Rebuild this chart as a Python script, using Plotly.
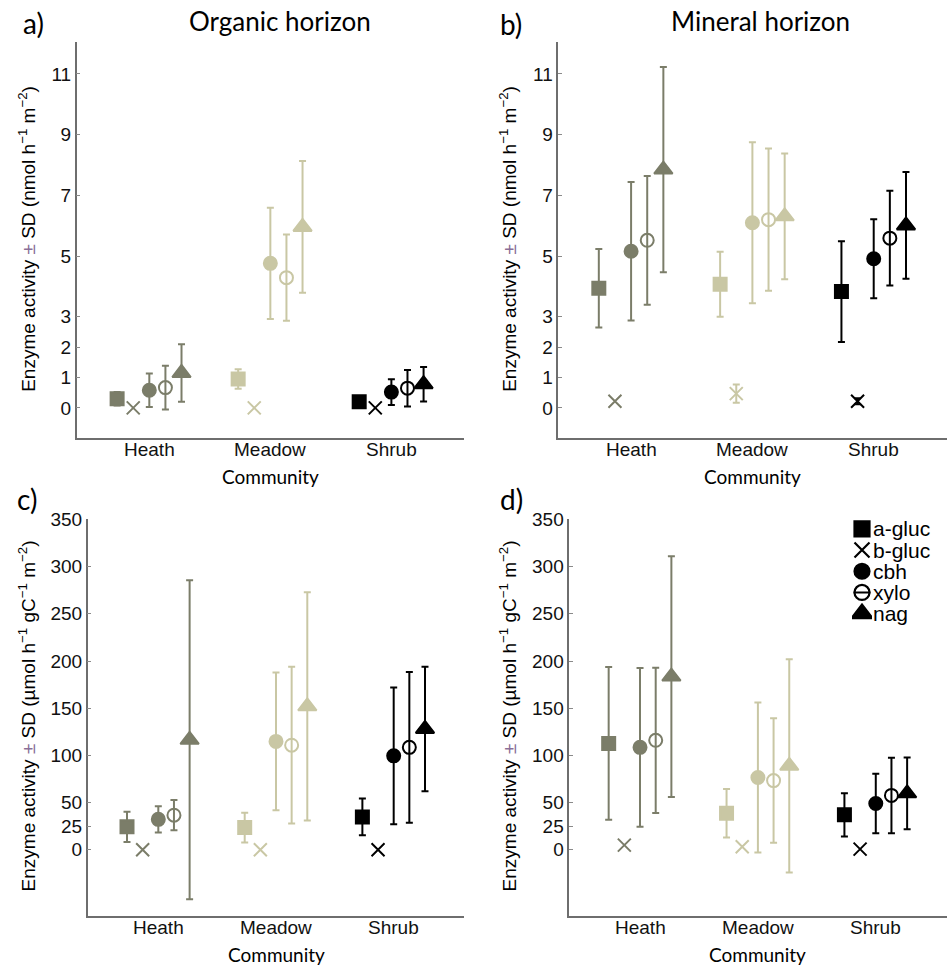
import plotly.graph_objects as go

# ---- data -------------------------------------------------------------
communities = ["Heath", "Meadow", "Shrub"]
enzymes = ["a-gluc", "b-gluc", "cbh", "xylo", "nag"]

# a) organic horizon, nmol h-1 m-2 (rows: Heath, Meadow, Shrub; cols: enzymes)
organic_mean = [[0.30, 0.0, 0.58, 0.67, 1.15],
                [0.95, 0.0, 4.76, 4.29, 5.96],
                [0.20, 0.0, 0.52, 0.65, 0.78]]
organic_sd = [[0.22, 0.0, 0.55, 0.72, 0.95],
              [0.32, 0.0, 1.83, 1.42, 2.17],
              [0.10, 0.0, 0.42, 0.60, 0.57]]

# b) mineral horizon, nmol h-1 m-2
mineral_mean = [[3.94, 0.22, 5.16, 5.52, 7.85],
                [4.07, 0.47, 6.10, 6.20, 6.31],
                [3.83, 0.22, 4.91, 5.59, 6.01]]
mineral_sd = [[1.29, 0.0, 2.28, 2.12, 3.38],
              [1.07, 0.30, 2.65, 2.34, 2.07],
              [1.66, 0.10, 1.30, 1.56, 1.76]]

# c) organic horizon, umol h-1 gC-1 m-2
organic_c_mean = [[24.3, 0.0, 32.2, 36.6, 116.5],
                  [23.5, 0.0, 114.8, 110.8, 152.0],
                  [34.8, 0.0, 99.5, 108.5, 128.0]]
organic_c_sd = [[16.0, 0.0, 14.0, 16.0, 169.0],
                [15.7, 0.0, 73.0, 83.0, 121.0],
                [19.5, 0.0, 72.5, 80.0, 66.0]]

# d) mineral horizon, umol h-1 gC-1 m-2
mineral_c_mean = [[112.7, 4.9, 108.5, 116.0, 183.5],
                  [38.7, 3.2, 76.6, 73.3, 89.0],
                  [37.0, 0.7, 49.0, 57.6, 59.8]]
mineral_c_sd = [[81.0, 0.0, 84.0, 77.0, 127.6],
                [25.7, 0.0, 79.4, 66.0, 113.0],
                [23.0, 0.0, 31.5, 40.0, 38.0]]

top_ticks = [0, 1, 2, 3, 5, 7, 9, 11]
bottom_ticks = [0, 25, 50, 100, 150, 200, 250, 300, 350]

# ---- styling ----------------------------------------------------------
W, H = 947, 971
community_colors = ["#7b7d69", "#c9c7a4", "#000000"]
symbols = ["square", "x-thin-open", "circle", "circle-open", "triangle-up"]
sizes = [13, 13, 13, 13, 16]
dodge = 0.133
SANS = "Liberation Sans, Arial, sans-serif"
HUM = "Lato, Open Sans, sans-serif"
AXIS_GREY = "#6e6e6e"


def px(x):
    return x / W


def py(y):
    return 1 - y / H


panels = [
    dict(mean=organic_mean, sd=organic_sd, xd=[px(76.7), px(464)],
         yd=[py(433.3), py(33)], yr=[-1, 12.06], ticks=top_ticks, lab_y=445),
    dict(mean=mineral_mean, sd=mineral_sd, xd=[px(558.3), px(946.5)],
         yd=[py(433.3), py(33)], yr=[-1, 12.06], ticks=top_ticks, lab_y=445),
    dict(mean=organic_c_mean, sd=organic_c_sd, xd=[px(87.7), px(464.3)],
         yd=[py(915.3), py(514.3)], yr=[-70, 351], ticks=bottom_ticks, lab_y=927),
    dict(mean=mineral_c_mean, sd=mineral_c_sd, xd=[px(569.3), px(946.5)],
         yd=[py(915.3), py(514.3)], yr=[-70, 351], ticks=bottom_ticks, lab_y=927),
]

fig = go.Figure()
layout = dict(width=W, height=H, autosize=False,
              margin=dict(l=0, r=0, t=0, b=0),
              paper_bgcolor="white", plot_bgcolor="white",
              showlegend=False)
ann = []

for p_i, p in enumerate(panels):
    n = "" if p_i == 0 else str(p_i + 1)
    xa, ya = "x" + n, "y" + n
    for c_i, comm in enumerate(communities):
        color = community_colors[c_i]
        for e_i, enz in enumerate(enzymes):
            m = p["mean"][c_i][e_i]
            s = p["sd"][c_i][e_i]
            fig.add_trace(go.Scatter(
                x=[c_i + 1 + (e_i - 2) * dodge], y=[m],
                xaxis=xa, yaxis=ya, mode="markers", name=enz,
                marker=dict(symbol=symbols[e_i], size=sizes[e_i], color=color,
                            line=dict(color=color, width=2)),
                error_y=dict(type="data", array=[s], visible=s > 0,
                             color=color, thickness=2, width=3.5),
                hoverinfo="skip"))
        # community name under its group, placed on the x scale
        ann.append(dict(x=c_i + 1, y=py(p["lab_y"]), xref=xa, yref="paper",
                        text=comm, showarrow=False, xanchor="center",
                        yanchor="middle",
                        font=dict(family=SANS, size=19, color="#111")))
    layout["xaxis" + n] = dict(
        domain=p["xd"], anchor=ya, range=[0.4, 3.6],
        tickvals=[1, 2, 3], showticklabels=False, ticks="",
        showline=True, linecolor=AXIS_GREY, linewidth=1.5,
        showgrid=False, zeroline=False)
    layout["yaxis" + n] = dict(
        domain=p["yd"], anchor=xa, range=p["yr"],
        tickvals=p["ticks"], ticks="inside", ticklen=4, tickcolor="#8a8a8a",
        showline=True, linecolor=AXIS_GREY, linewidth=1.5,
        showgrid=False, zeroline=False,
        tickfont=dict(family=SANS, size=19, color="#111"))

# ---- key drawn on its own hidden axis ---------------------------------
leg_rows = list(range(len(enzymes)))
layout["xaxis5"] = dict(domain=[px(852), px(872)], range=[0, 1], visible=False,
                        anchor="y5")
layout["yaxis5"] = dict(domain=[py(621), py(514)], range=[4.5, -0.5],
                        visible=False, anchor="x5")
leg_sizes = [15, 15, 15, 15, 18]
for e_i, enz in enumerate(enzymes):
    fig.add_trace(go.Scatter(
        x=[0.5], y=[leg_rows[e_i]], xaxis="x5", yaxis="y5", mode="markers",
        marker=dict(symbol=symbols[e_i], size=leg_sizes[e_i], color="black",
                    line=dict(color="black", width=2.2)),
        hoverinfo="skip"))
# bar through the open circle of the xylo key
fig.add_trace(go.Scatter(
    x=[0.5], y=[leg_rows[3]], xaxis="x5", yaxis="y5", mode="markers",
    marker=dict(symbol="line-ew", size=12, line=dict(color="black", width=2)),
    hoverinfo="skip"))

for e_i, enz in enumerate(enzymes):
    ann.append(dict(x=px(871), y=leg_rows[e_i], xref="paper", yref="y5",
                    text=enz, showarrow=False, xanchor="left", yanchor="middle",
                    font=dict(family=SANS, size=21, color="black")))

# ---- titles and labels ------------------------------------------------
pm = "<span style='color:#8a6f98'>±</span>"
ytitle_top = f"Enzyme activity {pm} SD (nmol h<sup>−1</sup> m<sup>−2</sup>)"
ytitle_bot = (f"Enzyme activity {pm} SD (µmol h<sup>−1</sup> "
              "gC<sup>−1</sup> m<sup>−2</sup>)")

for (x, y, t) in [(33, 14, "a)"), (511, 15, "b)"), (27, 495, "c)"), (511, 495, "d)")]:
    ann.append(dict(x=px(x), y=py(y), xref="paper", yref="paper", text=t,
                    showarrow=False, xanchor="center", yanchor="middle",
                    font=dict(family=HUM, size=28, color="black")))

for (x, t) in [(280, "Organic horizon"), (760, "Mineral horizon")]:
    ann.append(dict(x=px(x), y=py(12), xref="paper", yref="paper", text=t,
                    showarrow=False, xanchor="center", yanchor="middle",
                    font=dict(family=HUM, size=26, color="black")))

for (x, y) in [(270, 472), (752, 472), (276, 954), (757, 954)]:
    ann.append(dict(x=px(x), y=py(y), xref="paper", yref="paper",
                    text="Community", showarrow=False, xanchor="center",
                    yanchor="middle",
                    font=dict(family=HUM, size=19, color="black")))

for (x, y, t) in [(27, 232, ytitle_top), (508, 232, ytitle_top),
                  (27, 714, ytitle_bot), (508, 714, ytitle_bot)]:
    ann.append(dict(x=px(x), y=py(y), xref="paper", yref="paper", text=t,
                    textangle=-90, showarrow=False, xanchor="center",
                    yanchor="middle",
                    font=dict(family=SANS, size=19, color="black")))

layout["annotations"] = ann
fig.update_layout(**layout)
fig.write_html("out.html")
